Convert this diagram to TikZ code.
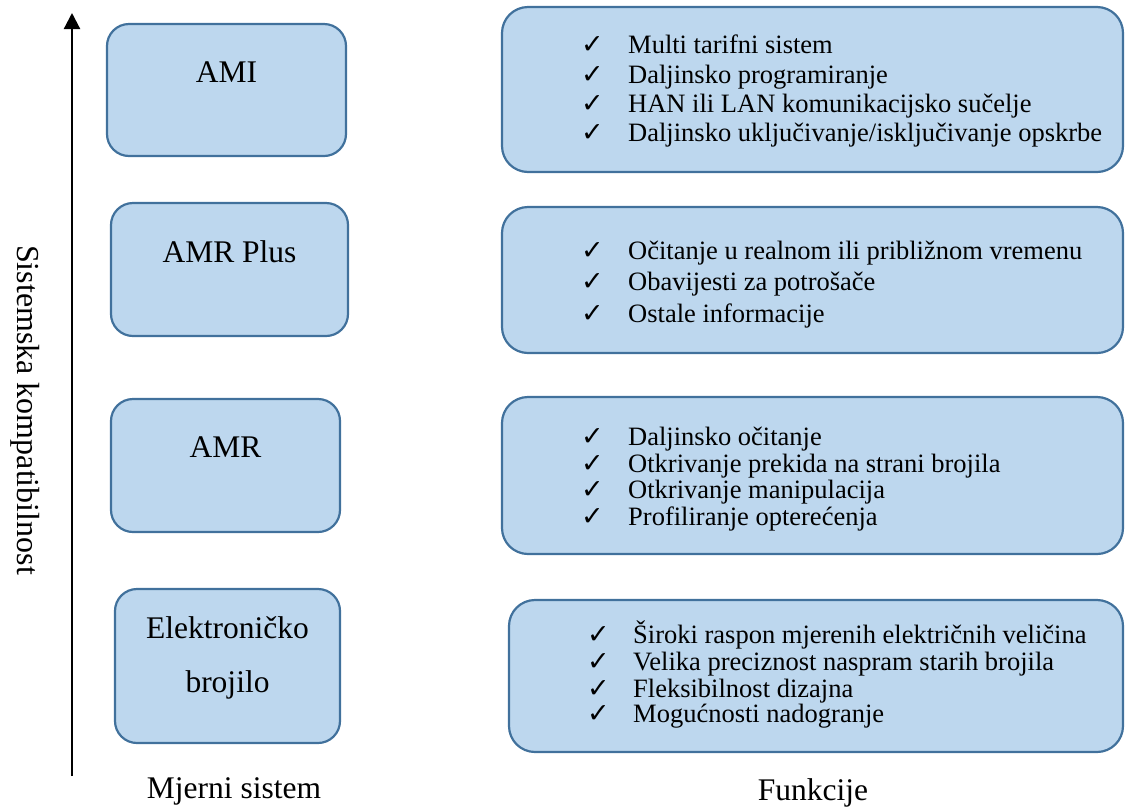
\documentclass[tikz,border=0pt]{standalone}
\usepackage{fontspec}
\setmainfont{Liberation Serif}
\newfontfamily\symfont{DejaVu Sans}
\usetikzlibrary{arrows.meta}
\definecolor{boxfill}{HTML}{BDD7EE}
\definecolor{boxline}{HTML}{41719C}
\tikzset{
  lbox/.style={draw=boxline, fill=boxfill, line width=2.2pt, rounded corners=22pt, inner sep=0pt},
  rbox/.style={draw=boxline, fill=boxfill, line width=2.2pt, rounded corners=26pt, inner sep=0pt},
  biglabel/.style={inner sep=0pt, anchor=base, font=\fontsize{31.5}{36}\selectfont},
  item/.style={inner sep=0pt, anchor=base west, font=\fontsize{26.5}{30}\selectfont},
  tick/.style={inner sep=0pt, anchor=base west, font=\symfont\fontsize{27}{30}\selectfont},
}
\begin{document}
\begin{tikzpicture}[x=1pt,y=-1pt]
\useasboundingbox (0,0) rectangle (1125,807);
% axis
\coordinate (axbot) at (72,776);
\coordinate (axtop) at (72,13);
\draw[line width=2.2pt, -{Triangle[length=16pt,width=16pt]}] (axbot) -- (axtop);
\node[inner sep=0pt, rotate=-90, font=\fontsize{32}{36}\selectfont] (axlab) at (25,410) {Sistemska kompatibilnost};
% left boxes
\node[lbox, minimum width=239pt, minimum height=132pt] (bami) at (226.5,90) {};
\node[lbox, minimum width=237pt, minimum height=133pt] (bamrp) at (229.5,269.5) {};
\node[lbox, minimum width=229pt, minimum height=133pt] (bamr) at (225.5,465.5) {};
\node[lbox, minimum width=225pt, minimum height=154pt] (bel) at (227.5,666) {};
\node[biglabel] (tami) at (226.5,82) {AMI};
\node[biglabel] (tamrp) at (229.5,262) {AMR Plus};
\node[biglabel] (tamr) at (225.5,457) {AMR};
\node[biglabel] (tel1) at (227.5,638) {Elektroničko};
\node[biglabel] (tel2) at (227.5,692) {brojilo};
\node[biglabel] (tmj) at (234,798) {Mjerni sistem};
% right boxes
\node[rbox, minimum width=621pt, minimum height=165pt] (fami) at (812.5,89.5) {};
\node[rbox, minimum width=621pt, minimum height=146pt] (famrp) at (812.5,280) {};
\node[rbox, minimum width=621pt, minimum height=157pt] (famr) at (812.5,475.5) {};
\node[rbox, minimum width=614pt, minimum height=152pt] (fel) at (816,676) {};
\node[biglabel] (tfun) at (813,800) {Funkcije};
% lists
\foreach \y/\t [count=\i] in {53/{Multi tarifni sistem}, 83/{Daljinsko programiranje}, 112/{HAN ili LAN komunikacijsko sučelje}, 141/{Daljinsko uključivanje/isključivanje opskrbe}}{
  \node[tick] (ca\i) at (581,\y) {✓};
  \node[item] (ia\i) at (628,\y) {\t};
}
\foreach \y/\t [count=\i] in {259/{Očitanje u realnom ili približnom vremenu}, 290/{Obavijesti za potrošače}, 322/{Ostale informacije}}{
  \node[tick] (cb\i) at (581,\y) {✓};
  \node[item] (ib\i) at (628,\y) {\t};
}
\foreach \y/\t [count=\i] in {445/{Daljinsko očitanje}, 472/{Otkrivanje prekida na strani brojila}, 498/{Otkrivanje manipulacija}, 525/{Profiliranje opterećenja}}{
  \node[tick] (cc\i) at (581,\y) {✓};
  \node[item] (ic\i) at (628,\y) {\t};
}
\foreach \y/\t [count=\i] in {643/{Široki raspon mjerenih električnih veličina}, 670/{Velika preciznost naspram starih brojila}, 697/{Fleksibilnost dizajna}, 722/{Mogućnosti nadogranje}}{
  \node[tick] (cd\i) at (587,\y) {✓};
  \node[item] (id\i) at (633,\y) {\t};
}
\end{tikzpicture}
\end{document}
